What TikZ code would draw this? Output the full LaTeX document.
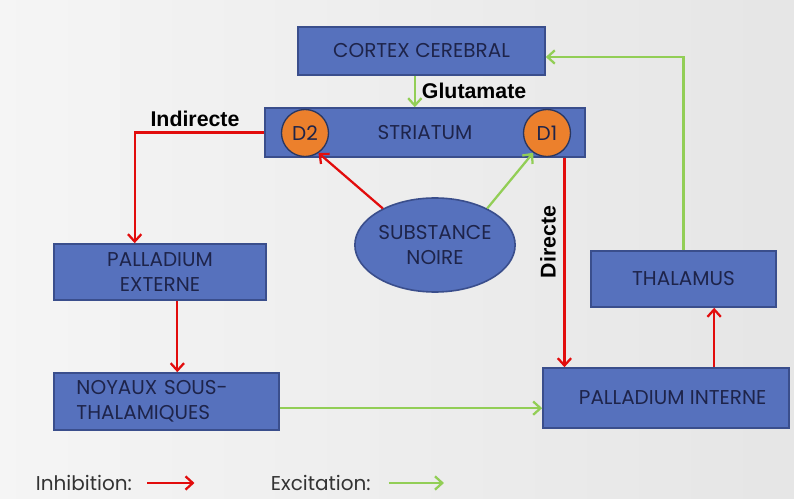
\documentclass[tikz,border=0pt]{standalone}
\usepackage{fontspec}
\setmainfont{Poppins}
\newfontfamily\labfont{Liberation Sans}
\usetikzlibrary{arrows.meta,shapes.geometric}

\definecolor{boxblue}{RGB}{86,113,189}
\definecolor{boxline}{RGB}{58,78,140}
\definecolor{boxtext}{RGB}{30,36,74}
\definecolor{dorange}{RGB}{236,128,44}
\definecolor{inhred}{RGB}{226,12,12}
\definecolor{excgreen}{RGB}{146,206,86}

\tikzset{every picture/.style={line width=0.75pt}}
\tikzset{
  areabox/.style={draw=boxline, line width=1.2pt, fill=boxblue, text=boxtext, font=\fontsize{15}{19}\selectfont, inner sep=0pt},
  recbox/.style={areabox, rectangle},
  dopa/.style={draw=boxline!70!black, line width=1pt, fill=dorange, text=boxtext, circle, minimum size=47*0.75pt, inner sep=0pt, font=\fontsize{15}{19}\selectfont},
  inh/.style={draw=inhred, line width=1.7pt, -{Straight Barb[length=5.5pt,width=10pt]}},
  exc/.style={draw=excgreen, line width=1.7pt, -{Straight Barb[length=5.5pt,width=10pt]}},
  pathlab/.style={font=\labfont\bfseries\fontsize{16}{19}\selectfont, text=black},
  legend/.style={anchor=west, text=black!80, font=\fontsize{15}{18}\selectfont},
}

\begin{document}
\begin{tikzpicture}[x=0.75pt,y=0.75pt,yscale=-1,xscale=1]
\useasboundingbox (0,0) rectangle (794,499);

%Background
\fill[left color=black!4, middle color=white, right color=black!10] (0,0) rectangle (794,499);

%Shape: Rectangle [cortex]
\node[recbox, minimum width=247*0.75pt, minimum height=48*0.75pt] (cortex) at (421.5,51) {CORTEX CEREBRAL};
%Shape: Rectangle [striatum]
\node[recbox, minimum width=320*0.75pt, minimum height=49*0.75pt] (striatum) at (425,132.5) {STRIATUM};
%Shape: Circle [D2, D1]
\node[dopa] (d2) at (305,133) {D2};
\node[dopa] (d1) at (547,133) {D1};
%Shape: Ellipse [substance noire]
\node[areabox, ellipse, minimum width=136*0.75pt, minimum height=94*0.75pt, align=center] (sn) at (435,245) {SUBSTANCE\\NOIRE};
%Shape: Rectangle [palladium externe]
\node[recbox, minimum width=212*0.75pt, minimum height=56*0.75pt, text width=195*0.75pt, align=center] (pext) at (160,272) {PALLADIUM\\EXTERNE\hspace{8pt}};
%Shape: Rectangle [noyaux sous-thalamiques]
\node[recbox, minimum width=225*0.75pt, minimum height=57*0.75pt, text width=180*0.75pt, align=left] (nst) at (166.5,401.5) {NOYAUX SOUS-\\THALAMIQUES};
%Shape: Rectangle [palladium interne]
\node[recbox, minimum width=246*0.75pt, minimum height=60*0.75pt] (pint) at (666,398) {\hspace{10pt}PALLADIUM INTERNE};
%Shape: Rectangle [thalamus]
\node[recbox, minimum width=185*0.75pt, minimum height=56*0.75pt] (thal) at (683.5,279) {THALAMUS};

%Excitation
\draw[exc] ([xshift=-5]cortex.south) -- ([xshift=-5]cortex.south |- striatum.north);
\draw[exc] (thal.north) |- ([yshift=4.5]cortex.east);
\draw[exc] (sn.35) -- (d1.-125);
\draw[exc] ([yshift=5]nst.east) -- ([yshift=5]nst.east -| pint.west);
%Inhibition
\draw[inh] (striatum.west) -| ([xshift=-19]pext.north);
\draw[inh] ([xshift=13]pext.south) -- ([xshift=13]pext.south |- nst.north);
\draw[inh] (sn.145) -- (d2.-56);
\draw[inh] ([xshift=-16]striatum.south east) -- ([xshift=-16]striatum.south east |- pint.north);
\draw[inh] ([xshift=23]thal.south |- pint.north) -- ([xshift=23]thal.south);

% Text Node
\node[pathlab, anchor=west] (glut) at ([xshift=-6,yshift=-12]striatum.north) {Glutamate};
% Text Node
\node[pathlab] (indir) at (195,119) {Indirecte};
% Text Node
\node[pathlab, rotate=90] (dir) at (548,242) {Directe};

% Legend
\node[legend] (inhlab) at (31,483) {Inhibition:};
\draw[inh] ([xshift=8]inhlab.east) -- ++(47,0);
\node[legend] (exclab) at (266,483) {Excitation:};
\draw[exc] ([xshift=10]exclab.east) -- ++(55,0);

\end{tikzpicture}
\end{document}
